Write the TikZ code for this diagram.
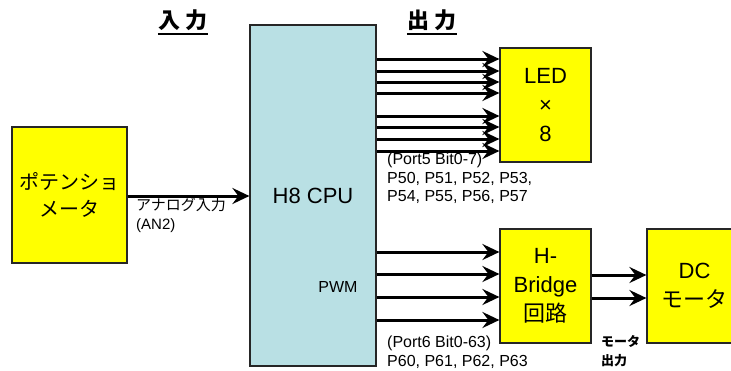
\documentclass[tikz,border=0pt]{standalone}
\usepackage{fontspec}
\setmainfont{Liberation Sans}
\newfontfamily\jp{Noto Sans CJK JP}
\usetikzlibrary{arrows.meta}
\definecolor{cpublue}{HTML}{B9E0E4}
\definecolor{boxyellow}{HTML}{FFFF00}
\begin{document}
\begin{tikzpicture}[x=1pt,y=-1pt,
  box/.style={draw=black!85, line width=1.2pt, rectangle, inner sep=0pt, align=center},
  ybox/.style={box, fill=boxyellow},
  big/.style={font=\fontsize{22}{29}\selectfont},
  sig/.style={line width=3pt, -{Stealth[length=17pt,width=16pt,inset=6pt]}},
  small/.style={font=\fontsize{16}{18.5}\selectfont, inner sep=0pt, align=left},
  head/.style={font=\fontsize{22}{26}\selectfont\jp\bfseries, inner sep=0pt},
  uline/.style={line width=2pt}
]
\useasboundingbox (0,0) rectangle (731,370);
% boxes
\node[box, fill=cpublue, minimum width=126pt, minimum height=341pt, big] (cpu) at (313,195.5) {H8 CPU};
\node[ybox, minimum width=115pt, minimum height=136pt, font=\fontsize{20}{27}\selectfont\jp] (pot) at (69.5,195) {ポテンショ\\メータ};
\node[ybox, minimum width=91pt, minimum height=114pt, big] (led) at (545.5,105) {LED\\×\\8};
\node[ybox, minimum width=91pt, minimum height=114pt, big] (hb) at (545.5,286) {H-\\Bridge\\\jp 回路};
\node[ybox, minimum width=104pt, minimum height=114pt, big] (dc) at (699,286) {\hspace*{-9pt}DC\\\hspace*{-9pt}\jp モータ};
% headers
\node[head] (hin) at (183,20) {入\hspace{6pt}力};
\node[head] (hout) at (432,20) {出\hspace{6pt}力};
\draw[uline] ([yshift=-3pt]hin.south west) -- ([yshift=-3pt]hin.south east);
\draw[uline] ([yshift=-3pt]hout.south west) -- ([yshift=-3pt]hout.south east);
% connectors
\draw[sig] (pot.east |- 0,196) -- (cpu.west |- 0,196);
\foreach \y in {59,71,82,93,116,127,139,151}
  \draw[sig] (cpu.east |- 0,\y) -- (led.west |- 0,\y);
\foreach \y in {252,274,297,320}
  \draw[sig] (cpu.east |- 0,\y) -- (hb.west |- 0,\y);
\foreach \y in {275,298}
  \draw[sig] (hb.east |- 0,\y) -- (dc.west |- 0,\y);
% labels
\node[small, anchor=north west, font=\fontsize{15}{18.5}\selectfont] (ain) at (136,198) {\jp アナログ入力\\(AN2)};
\node[small] (pwm) at (338,287) {PWM};
\node[small, anchor=north west] (p5) at (387,153) {(Port5 Bit0-7)\\P50, P51, P52, P53,\\P54, P55, P56, P57};
\node[small, anchor=north west] (p6) at (387,336) {(Port6 Bit0-63)\\P60, P61, P62, P63};
\node[small, anchor=north west, font=\fontsize{13}{19}\selectfont\jp\bfseries] (mout) at (601,335) {モータ\\出力};
\end{tikzpicture}
\end{document}
